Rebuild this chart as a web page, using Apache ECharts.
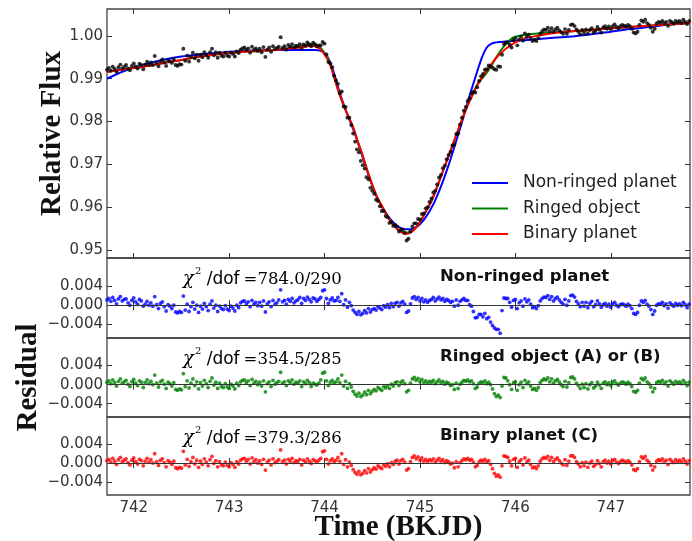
<!DOCTYPE html>
<html><head><meta charset="utf-8">
<script src="https://cdn.jsdelivr.net/npm/echarts@6/dist/echarts.min.js"></script>
<style>html,body{margin:0;padding:0;background:#fff}#c{width:692px;height:541px}</style>
</head><body><div id="c"></div>
<script>
// ---- data ----
const times = [
741.72,741.74,741.76,741.78,741.8,741.82,741.84,741.86,741.88,741.9,
741.92,741.94,741.96,741.98,742,742.02,742.04,742.06,742.08,742.1,
742.12,742.14,742.16,742.18,742.2,742.22,742.24,742.26,742.28,742.3,
742.32,742.34,742.36,742.38,742.4,742.42,742.44,742.46,742.48,742.5,
742.52,742.54,742.56,742.58,742.6,742.62,742.64,742.66,742.68,742.7,
742.72,742.74,742.76,742.78,742.8,742.82,742.84,742.86,742.88,742.9,
742.92,742.94,742.96,742.98,743,743.02,743.04,743.06,743.08,743.1,
743.12,743.14,743.16,743.18,743.2,743.22,743.24,743.26,743.28,743.3,
743.32,743.34,743.36,743.38,743.4,743.42,743.44,743.46,743.48,743.5,
743.52,743.54,743.56,743.58,743.6,743.62,743.64,743.66,743.68,743.7,
743.72,743.74,743.76,743.78,743.8,743.82,743.84,743.86,743.88,743.9,
743.92,743.94,743.96,743.98,744,744.02,744.04,744.06,744.08,744.1,
744.12,744.14,744.16,744.18,744.2,744.22,744.24,744.26,744.28,744.3,
744.32,744.34,744.36,744.38,744.4,744.42,744.44,744.46,744.48,744.5,
744.52,744.54,744.56,744.58,744.6,744.62,744.64,744.66,744.68,744.7,
744.72,744.74,744.76,744.78,744.8,744.82,744.84,744.86,744.88,744.9,
744.92,744.94,744.96,744.98,745,745.02,745.04,745.06,745.08,745.1,
745.12,745.14,745.16,745.18,745.2,745.22,745.24,745.26,745.28,745.3,
745.32,745.34,745.36,745.38,745.4,745.42,745.44,745.46,745.48,745.5,
745.52,745.54,745.56,745.58,745.6,745.62,745.64,745.66,745.68,745.7,
745.72,745.74,745.76,745.78,745.8,745.82,745.84,745.86,745.88,745.9,
745.92,745.94,745.96,745.98,746,746.02,746.04,746.06,746.08,746.1,
746.12,746.14,746.16,746.18,746.2,746.22,746.24,746.26,746.28,746.3,
746.32,746.34,746.36,746.38,746.4,746.42,746.44,746.46,746.48,746.5,
746.52,746.54,746.56,746.58,746.6,746.62,746.64,746.66,746.68,746.7,
746.72,746.74,746.76,746.78,746.8,746.82,746.84,746.86,746.88,746.9,
746.92,746.94,746.96,746.98,747,747.02,747.04,747.06,747.08,747.1,
747.12,747.14,747.16,747.18,747.2,747.22,747.24,747.26,747.28,747.3,
747.32,747.34,747.36,747.38,747.4,747.42,747.44,747.46,747.48,747.5,
747.52,747.54,747.56,747.58,747.6,747.62,747.64,747.66,747.68,747.7,
747.72,747.74,747.76,747.78,747.8,747.82];

const fluxObserved = [
0.9921,0.9925,0.9919,0.9928,0.9923,0.9916,0.9927,0.9933,0.9924,0.9928,
0.9932,0.9924,0.9920,0.9930,0.9936,0.9929,0.9924,0.9935,0.9932,0.9922,
0.9933,0.9940,0.9932,0.9938,0.9932,0.9953,0.9937,0.9929,0.9941,0.9945,
0.9938,0.9930,0.9943,0.9941,0.9937,0.9945,0.9932,0.9930,0.9934,0.9933,
0.9970,0.9942,0.9954,0.9940,0.9951,0.9961,0.9948,0.9956,0.9942,0.9956,
0.9950,0.9962,0.9956,0.9949,0.9962,0.9970,0.9955,0.9962,0.9949,0.9961,
0.9954,0.9952,0.9961,0.9954,0.9952,0.9961,0.9958,0.9952,0.9964,0.9960,
0.9968,0.9971,0.9973,0.9967,0.9971,0.9961,0.9975,0.9967,0.9971,0.9965,
0.9970,0.9962,0.9974,0.9951,0.9968,0.9973,0.9963,0.9976,0.9969,0.9972,
0.9975,0.9997,0.9972,0.9976,0.9968,0.9979,0.9975,0.9981,0.9973,0.9977,
0.9976,0.9981,0.9970,0.9980,0.9977,0.9985,0.9980,0.9976,0.9984,0.9981,
0.9976,0.9978,0.9978,0.9986,0.9982,0.9957,0.9939,0.9936,0.9927,0.9907,
0.9896,0.9888,0.9866,0.9870,0.9835,0.9834,0.9809,0.9809,0.9792,0.9772,
0.9753,0.9735,0.9728,0.9708,0.9698,0.9690,0.9670,0.9665,0.9645,0.9638,
0.9631,0.9617,0.9614,0.9602,0.9591,0.9591,0.9579,0.9576,0.9563,0.9565,
0.9556,0.9558,0.9555,0.9543,0.9547,0.9548,0.9540,0.9522,0.9526,0.9543,
0.9555,0.9562,0.9562,0.9572,0.9571,0.9584,0.9585,0.9597,0.9600,0.9612,
0.9620,0.9634,0.9638,0.9653,0.9669,0.9675,0.9691,0.9697,0.9712,0.9722,
0.9729,0.9744,0.9746,0.9771,0.9772,0.9793,0.9809,0.9825,0.9834,0.9848,
0.9854,0.9866,0.9869,0.9868,0.9880,0.9895,0.9906,0.9911,0.9921,0.9922,
0.9931,0.9929,0.9926,0.9922,0.9921,0.9929,0.9928,0.9956,0.9981,0.9984,
0.9985,0.9980,0.9973,0.9990,0.9995,0.9978,0.9992,0.9998,0.9989,1.0006,
0.9998,1.0003,0.9995,0.9988,0.9991,0.9988,0.9995,1.0005,1.0011,1.0015,
1.0014,1.0019,1.0011,1.0018,1.0010,1.0015,1.0019,1.0013,1.0009,1.0005,
1.0016,1.0005,1.0014,1.0026,1.0027,1.0023,1.0015,1.0010,1.0004,1.0014,
1.0007,1.0015,1.0005,1.0014,1.0018,1.0008,1.0012,1.0021,1.0015,1.0008,
1.0020,1.0023,1.0017,1.0022,1.0016,1.0023,1.0027,1.0021,1.0018,1.0023,
1.0026,1.0024,1.0022,1.0026,1.0023,1.0017,1.0008,1.0006,1.0010,1.0026,
1.0036,1.0033,1.0038,1.0030,1.0026,1.0019,1.0010,1.0017,1.0029,1.0033,
1.0031,1.0035,1.0029,1.0033,1.0024,1.0035,1.0032,1.0029,1.0035,1.0032,
1.0035,1.0031,1.0038,1.0033,1.0028,1.0035];

const modelTimes = [741.72,741.9,742.1,742.3,742.5,742.7,742.9,743.1,743.3,743.5,743.7,743.8,743.85,743.9,743.95,
744.0,744.05,744.1,744.15,744.2,744.25,744.3,744.35,744.4,744.45,744.5,744.55,744.6,744.65,744.7,744.75,744.8,744.85,744.9,744.95,
745.0,745.05,745.1,745.15,745.2,745.25,745.3,745.35,745.4,745.45,745.5,745.55,745.6,745.65,745.7,745.75,745.8,745.85,745.9,745.95,
746.0,746.1,746.2,746.3,746.4,746.6,746.8,747.0,747.2,747.4,747.6,747.83];

const modelNonRinged = [0.9900,0.9918,0.9933,0.9944,0.9952,0.9957,0.9961,0.9964,0.9966,0.9967,0.9967,0.9967,0.9967,0.9967,0.9966,
0.9960,0.9943,0.9912,0.9874,0.9840,0.9810,0.9782,0.9750,0.9716,0.9682,0.9650,0.9622,0.9601,0.9584,0.9569,0.9558,0.9551,0.9548,0.9548,0.9552,
0.9560,0.9573,0.9590,0.9611,0.9637,0.9666,0.9698,0.9733,0.9769,0.9806,0.9845,0.9882,0.9917,0.9950,0.9973,0.9982,0.9985,0.9986,0.9987,0.9988,
0.9989,0.9990,0.9992,0.9994,0.9996,0.9999,1.0004,1.0010,1.0016,1.0021,1.0026,1.0030];

const modelRinged = [0.9916,0.9922,0.9928,0.9936,0.9944,0.9952,0.9958,0.9962,0.9965,0.9968,0.9974,0.9979,0.9981,0.9980,0.9974,
0.9960,0.9940,0.9904,0.9868,0.9838,0.9812,0.9786,0.9752,0.9720,0.9684,0.9652,0.9624,0.9603,0.9582,0.9564,0.9551,0.9544,0.9540,0.9542,0.9550,
0.9565,0.9585,0.9605,0.9630,0.9659,0.9690,0.9719,0.9750,0.9780,0.9810,0.9838,0.9862,0.9886,0.9900,0.9914,0.9931,0.9950,0.9967,0.9981,0.9992,
0.9998,1.0003,1.0005,1.0007,1.0008,1.0011,1.0014,1.0018,1.0021,1.0024,1.0027,1.0030];

const modelBinary = [0.9916,0.9922,0.9928,0.9936,0.9944,0.9952,0.9958,0.9962,0.9965,0.9968,0.9972,0.9975,0.9977,0.9976,0.9970,
0.9956,0.9937,0.9904,0.9868,0.9838,0.9812,0.9786,0.9752,0.9720,0.9684,0.9652,0.9624,0.9603,0.9582,0.9564,0.9551,0.9542,0.9537,0.9540,0.9550,
0.9565,0.9585,0.9605,0.9630,0.9659,0.9690,0.9719,0.9750,0.9780,0.9810,0.9838,0.9862,0.9885,0.9903,0.9920,0.9935,0.9949,0.9960,0.9970,0.9978,
0.9985,0.9995,0.9999,1.0003,1.0007,1.0011,1.0014,1.0018,1.0021,1.0024,1.0027,1.0030];

const resNonRinged = [
11e-4,14e-4,8e-4,16e-4,10e-4,3e-4,13e-4,18e-4,9e-4,12e-4,
13e-4,5e-4,0,10e-4,15e-4,7e-4,2e-4,12e-4,9e-4,-2e-4,
2e-4,8e-4,0,5e-4,-2e-4,18e-4,1e-4,-7e-4,4e-4,7e-4,
-3e-4,-12e-4,1e-4,-2e-4,-7e-4,0,-14e-4,-16e-4,-13e-4,-15e-4,
19e-4,-10e-4,2e-4,-13e-4,-3e-4,6e-4,-8e-4,0,-15e-4,-2e-4,
-8e-4,4e-4,-3e-4,-11e-4,2e-4,9e-4,-6e-4,0,-13e-4,-2e-4,
-7e-4,-9e-4,-1e-4,-8e-4,-11e-4,-2e-4,-6e-4,-12e-4,0,-5e-4,
5e-4,8e-4,9e-4,3e-4,7e-4,-3e-4,10e-4,2e-4,6e-4,-1e-4,
6e-4,-2e-4,9e-4,-14e-4,3e-4,7e-4,-3e-4,10e-4,2e-4,5e-4,
11e-4,32e-4,7e-4,10e-4,2e-4,12e-4,8e-4,14e-4,5e-4,9e-4,
11e-4,16e-4,4e-4,14e-4,10e-4,17e-4,12e-4,7e-4,15e-4,13e-4,
8e-4,12e-4,16e-4,30e-4,32e-4,14e-4,4e-4,11e-4,15e-4,9e-4,
10e-4,16e-4,8e-4,24e-4,1e-4,11e-4,-4e-4,6e-4,-1e-4,-10e-4,
-15e-4,-19e-4,-13e-4,-20e-4,-17e-4,-11e-4,-16e-4,-7e-4,-14e-4,-9e-4,
-7e-4,-10e-4,-3e-4,-6e-4,-9e-4,-1e-4,-4e-4,1e-4,-5e-4,4e-4,
-3e-4,4e-4,6e-4,-2e-4,5e-4,8e-4,2e-4,-15e-4,-12e-4,3e-4,
15e-4,18e-4,12e-4,16e-4,9e-4,14e-4,7e-4,11e-4,6e-4,10e-4,
12e-4,16e-4,9e-4,13e-4,17e-4,11e-4,14e-4,8e-4,12e-4,10e-4,
6e-4,8e-4,-2e-4,11e-4,0,8e-4,11e-4,14e-4,10e-4,10e-4,
1e-4,-2e-4,-13e-4,-26e-4,-25e-4,-19e-4,-19e-4,-24e-4,-17e-4,-28e-4,
-25e-4,-35e-4,-42e-4,-47e-4,-50e-4,-50e-4,-58e-4,-11e-4,15e-4,14e-4,
14e-4,6e-4,-4e-4,10e-4,12e-4,-7e-4,5e-4,9e-4,-2e-4,13e-4,
7e-4,11e-4,2e-4,-5e-4,-3e-4,-7e-4,-1e-4,9e-4,14e-4,17e-4,
16e-4,20e-4,12e-4,18e-4,9e-4,14e-4,17e-4,11e-4,6e-4,2e-4,
12e-4,0,9e-4,20e-4,21e-4,17e-4,8e-4,3e-4,-3e-4,6e-4,
-2e-4,6e-4,-5e-4,4e-4,8e-4,-3e-4,1e-4,9e-4,3e-4,-4e-4,
1e-4,4e-4,-2e-4,2e-4,-4e-4,3e-4,6e-4,0,-3e-4,1e-4,
3e-4,1e-4,-2e-4,2e-4,-1e-4,-7e-4,-17e-4,-19e-4,-15e-4,0,
9e-4,6e-4,10e-4,2e-4,-2e-4,-9e-4,-19e-4,-12e-4,0,3e-4,
2e-4,6e-4,-1e-4,3e-4,-6e-4,5e-4,1e-4,-2e-4,4e-4,0,
3e-4,-1e-4,6e-4,1e-4,-5e-4,2e-4];

const resRinged = [
5e-4,8e-4,2e-4,10e-4,4e-4,-3e-4,7e-4,12e-4,3e-4,6e-4,
9e-4,1e-4,-4e-4,6e-4,11e-4,3e-4,-2e-4,8e-4,5e-4,-6e-4,
4e-4,10e-4,2e-4,7e-4,0,20e-4,3e-4,-5e-4,6e-4,9e-4,
1e-4,-8e-4,5e-4,2e-4,-3e-4,4e-4,-10e-4,-12e-4,-9e-4,-11e-4,
23e-4,-4e-4,8e-4,-7e-4,3e-4,12e-4,-2e-4,6e-4,-9e-4,4e-4,
-3e-4,9e-4,2e-4,-6e-4,7e-4,14e-4,-1e-4,5e-4,-8e-4,3e-4,
-4e-4,-6e-4,2e-4,-5e-4,-8e-4,1e-4,-3e-4,-9e-4,3e-4,-2e-4,
6e-4,9e-4,10e-4,4e-4,8e-4,-2e-4,11e-4,3e-4,7e-4,0,
5e-4,-3e-4,8e-4,-15e-4,2e-4,6e-4,-4e-4,9e-4,1e-4,4e-4,
7e-4,26e-4,3e-4,6e-4,-2e-4,8e-4,4e-4,10e-4,1e-4,5e-4,
3e-4,8e-4,-4e-4,6e-4,2e-4,9e-4,4e-4,-4e-4,3e-4,1e-4,
-1e-4,3e-4,10e-4,24e-4,26e-4,8e-4,-2e-4,5e-4,9e-4,3e-4,
6e-4,12e-4,4e-4,20e-4,-3e-4,7e-4,-8e-4,2e-4,-5e-4,-14e-4,
-20e-4,-24e-4,-18e-4,-25e-4,-22e-4,-16e-4,-21e-4,-12e-4,-19e-4,-14e-4,
-10e-4,-13e-4,-6e-4,-9e-4,-12e-4,-4e-4,-7e-4,-2e-4,-8e-4,1e-4,
-3e-4,4e-4,6e-4,-2e-4,5e-4,8e-4,2e-4,-15e-4,-12e-4,3e-4,
12e-4,15e-4,9e-4,13e-4,6e-4,11e-4,4e-4,8e-4,3e-4,7e-4,
5e-4,9e-4,2e-4,6e-4,10e-4,4e-4,7e-4,1e-4,5e-4,3e-4,
-2e-4,0,-10e-4,3e-4,-8e-4,1e-4,5e-4,9e-4,7e-4,10e-4,
6e-4,8e-4,2e-4,-8e-4,-5e-4,3e-4,6e-4,4e-4,8e-4,2e-4,
5e-4,0,-9e-4,-19e-4,-25e-4,-22e-4,-27e-4,-3e-4,15e-4,14e-4,
8e-4,0,-10e-4,4e-4,6e-4,-12e-4,0,5e-4,-6e-4,9e-4,
2e-4,6e-4,-3e-4,-10e-4,-8e-4,-12e-4,-6e-4,4e-4,9e-4,12e-4,
10e-4,14e-4,6e-4,12e-4,3e-4,8e-4,11e-4,5e-4,0,-4e-4,
7e-4,-5e-4,4e-4,15e-4,16e-4,12e-4,3e-4,-2e-4,-8e-4,1e-4,
-6e-4,2e-4,-9e-4,0,4e-4,-7e-4,-3e-4,5e-4,-1e-4,-8e-4,
3e-4,6e-4,0,4e-4,-2e-4,5e-4,8e-4,2e-4,-1e-4,3e-4,
6e-4,4e-4,1e-4,5e-4,2e-4,-4e-4,-14e-4,-16e-4,-12e-4,3e-4,
13e-4,10e-4,14e-4,6e-4,2e-4,-5e-4,-15e-4,-8e-4,4e-4,7e-4,
5e-4,9e-4,2e-4,6e-4,-3e-4,8e-4,4e-4,1e-4,7e-4,3e-4,
6e-4,2e-4,9e-4,4e-4,-2e-4,5e-4];

const resBinary = [
5e-4,8e-4,2e-4,10e-4,4e-4,-3e-4,7e-4,12e-4,3e-4,6e-4,
9e-4,1e-4,-4e-4,6e-4,11e-4,3e-4,-2e-4,8e-4,5e-4,-6e-4,
4e-4,10e-4,2e-4,7e-4,0,20e-4,3e-4,-5e-4,6e-4,9e-4,
1e-4,-8e-4,5e-4,2e-4,-3e-4,4e-4,-10e-4,-12e-4,-9e-4,-11e-4,
25e-4,-4e-4,8e-4,-7e-4,3e-4,12e-4,-2e-4,6e-4,-9e-4,4e-4,
-3e-4,9e-4,2e-4,-6e-4,7e-4,14e-4,-1e-4,5e-4,-8e-4,3e-4,
-4e-4,-6e-4,2e-4,-5e-4,-8e-4,1e-4,-3e-4,-9e-4,3e-4,-2e-4,
6e-4,9e-4,10e-4,4e-4,8e-4,-2e-4,11e-4,3e-4,7e-4,0,
5e-4,-3e-4,8e-4,-15e-4,2e-4,6e-4,-4e-4,9e-4,1e-4,4e-4,
7e-4,28e-4,3e-4,6e-4,-2e-4,8e-4,4e-4,10e-4,1e-4,5e-4,
3e-4,8e-4,-4e-4,6e-4,2e-4,9e-4,4e-4,-1e-4,7e-4,5e-4,
2e-4,6e-4,10e-4,24e-4,26e-4,8e-4,-2e-4,5e-4,9e-4,3e-4,
6e-4,12e-4,4e-4,20e-4,-3e-4,7e-4,-8e-4,2e-4,-5e-4,-14e-4,
-20e-4,-24e-4,-18e-4,-25e-4,-22e-4,-16e-4,-21e-4,-12e-4,-19e-4,-14e-4,
-10e-4,-13e-4,-6e-4,-9e-4,-12e-4,-4e-4,-7e-4,-2e-4,-8e-4,1e-4,
-3e-4,4e-4,6e-4,-2e-4,5e-4,8e-4,2e-4,-15e-4,-12e-4,3e-4,
12e-4,15e-4,9e-4,13e-4,6e-4,11e-4,4e-4,8e-4,3e-4,7e-4,
5e-4,9e-4,2e-4,6e-4,10e-4,4e-4,7e-4,1e-4,5e-4,3e-4,
-2e-4,0,-10e-4,3e-4,-8e-4,1e-4,5e-4,9e-4,7e-4,10e-4,
6e-4,8e-4,2e-4,-8e-4,-5e-4,3e-4,6e-4,4e-4,8e-4,2e-4,
5e-4,-3e-4,-12e-4,-22e-4,-28e-4,-25e-4,-30e-4,-6e-4,15e-4,14e-4,
12e-4,4e-4,-6e-4,8e-4,10e-4,-9e-4,3e-4,7e-4,-4e-4,11e-4,
2e-4,6e-4,-3e-4,-10e-4,-8e-4,-12e-4,-6e-4,4e-4,9e-4,12e-4,
10e-4,14e-4,6e-4,12e-4,3e-4,8e-4,11e-4,5e-4,0,-4e-4,
7e-4,-5e-4,4e-4,15e-4,16e-4,12e-4,3e-4,-2e-4,-8e-4,1e-4,
-6e-4,2e-4,-9e-4,0,4e-4,-7e-4,-3e-4,5e-4,-1e-4,-8e-4,
3e-4,6e-4,0,4e-4,-2e-4,5e-4,8e-4,2e-4,-1e-4,3e-4,
6e-4,4e-4,1e-4,5e-4,2e-4,-4e-4,-14e-4,-16e-4,-12e-4,3e-4,
13e-4,10e-4,14e-4,6e-4,2e-4,-5e-4,-15e-4,-8e-4,4e-4,7e-4,
5e-4,9e-4,2e-4,6e-4,-3e-4,8e-4,4e-4,1e-4,7e-4,3e-4,
6e-4,2e-4,9e-4,4e-4,-2e-4,5e-4];

const xTicks = [742, 743, 744, 745, 746, 747];
const fluxTicks = [0.95, 0.96, 0.97, 0.98, 0.99, 1.00];
const resTicks = [-0.004, 0, 0.004];
const modelNames = ['Non-ringed planet', 'Ringed object', 'Binary planet'];
const panelTitles = ['Non-ringed planet', 'Ringed object (A) or (B)', 'Binary planet (C)'];
const chiValues = ['784.0/290', '354.5/285', '379.3/286'];

// ---- chart ----
const colors = ['#0000ff', '#008000', '#ff0000'];
const pair = (xs, ys) => xs.map((x, i) => [x, ys[i]]);
const chart = echarts.init(document.getElementById('c'), null, {renderer: 'canvas'});

const L = 107, R = 2;
const gridBoxes = [[9, 249], [258, 80], [338, 79], [417, 78]];
const grids = gridBoxes.map(([t, h]) => ({left: L, right: R, top: t, height: h, show: true,
  outerBoundsMode: 'none', containLabel: false,
  borderColor: '#444', borderWidth: 1.3, backgroundColor: 'transparent'}));

const tickStyle = {color: '#333', width: 1};
const titleFont = {fontFamily: 'Liberation Serif', fontWeight: 'bold', fontSize: 29, color: '#111'};
const xAxes = [], yAxes = [];
for (let i = 0; i < 4; i++) {
  for (const pos of ['bottom', 'top']) {
    const lab = (i === 3 && pos === 'bottom');
    xAxes.push({type: 'value', gridIndex: i, position: pos, min: 741.72, max: 747.83,
      axisLine: {show: false}, splitLine: {show: false},
      axisTick: {show: true, inside: true, length: 5, customValues: xTicks, lineStyle: tickStyle},
      axisLabel: {show: lab, customValues: xTicks, fontSize: 15, color: '#333', fontFamily: 'DejaVu Sans', margin: 6},
      name: lab ? 'Time (BKJD)' : '', nameLocation: 'middle', nameGap: 18, nameMoveOverlap: false,
      nameTextStyle: titleFont});
  }
  for (const pos of ['left', 'right']) {
    const top = i === 0, lab = pos === 'left';
    const fmt = top ? (v => v.toFixed(2)) : (v => (v < 0 ? '\u2212' + Math.abs(v).toFixed(3) : v.toFixed(3)));
    let name = '';
    if (lab && i === 0) name = 'Relative Flux';
    if (lab && i === 2) name = 'Residual';
    yAxes.push({type: 'value', gridIndex: i, position: pos,
      min: top ? 0.9481 : -0.0068, max: top ? 1.0063 : 0.0098,
      axisLine: {show: false}, splitLine: {show: false},
      axisTick: {show: true, inside: true, length: 5, customValues: top ? fluxTicks : resTicks, lineStyle: tickStyle},
      axisLabel: {show: lab, customValues: top ? fluxTicks : resTicks, formatter: fmt, fontSize: 15, color: '#333', fontFamily: 'DejaVu Sans', margin: 4},
      name: name, nameLocation: 'middle', nameGap: i === 0 ? 40 : 64, nameMoveOverlap: false,
      nameTextStyle: titleFont});
  }
}

const series = [];
series.push({name: 'Observed flux', type: 'scatter', xAxisIndex: 0, yAxisIndex: 0,
  data: pair(times, fluxObserved), symbolSize: 3.9, itemStyle: {color: '#000'}, z: 5});
const models = [modelNonRinged, modelRinged, modelBinary];
models.forEach((m, k) => series.push({name: modelNames[k], type: 'line', xAxisIndex: 0, yAxisIndex: 0,
  data: pair(modelTimes, m), showSymbol: false, smooth: 0.35, lineStyle: {color: colors[k], width: 2},
  itemStyle: {color: colors[k]}, z: 3 + k * 0.1}));
const residuals = [resNonRinged, resRinged, resBinary];
residuals.forEach((r, k) => series.push({name: 'Residual ' + modelNames[k], type: 'scatter',
  xAxisIndex: 2 * (k + 1), yAxisIndex: 2 * (k + 1), data: pair(times, r), symbolSize: 3.8,
  itemStyle: {color: colors[k]}, z: 4,
  markLine: {silent: true, symbol: 'none', label: {show: false}, animation: false,
    lineStyle: {color: '#333', type: 'solid', width: 1.2}, data: [{yAxis: 0}]}}));

const graphics = [];
panelTitles.forEach((t, k) => {
  const yc = gridBoxes[k + 1][0] + 19;
  graphics.push({type: 'text', x: 183, y: yc, silent: true, style: {
    text: '{c|\u03c7}{s|2}{d| /dof}{n|=' + chiValues[k] + '}',
    verticalAlign: 'middle', align: 'left',
    rich: {
      c: {fontFamily: 'DejaVu Serif', fontStyle: 'italic', fontSize: 18, color: '#444', lineHeight: 22, verticalAlign: 'bottom'},
      s: {fontFamily: 'DejaVu Serif', fontSize: 10, color: '#444', lineHeight: 22, verticalAlign: 'top', padding: [0, 0, 0, 1]},
      d: {fontFamily: 'DejaVu Sans', fontSize: 17, color: '#444', lineHeight: 22, verticalAlign: 'bottom'},
      n: {fontFamily: 'DejaVu Serif', fontSize: 16.5, color: '#555', lineHeight: 22, verticalAlign: 'bottom', padding: [0, 0, 0, 4]}
    }}});
  graphics.push({type: 'text', x: 440, y: yc, silent: true, style: {
    text: t, fontFamily: 'DejaVu Sans', fontWeight: 'bold', fontSize: 16.5, fill: '#111',
    verticalAlign: 'middle', align: 'left'}});
});

chart.setOption({
  animation: false,
  backgroundColor: '#fff',
  grid: grids,
  xAxis: xAxes,
  yAxis: yAxes,
  legend: {data: modelNames.map(n => ({name: n, icon: 'rect'})), orient: 'vertical', left: 467, top: 168,
    itemWidth: 36, itemHeight: 2.2, itemGap: 5.5, selectedMode: false,
    textStyle: {fontFamily: 'DejaVu Sans', fontSize: 17, color: '#222', lineHeight: 20, padding: [0, 0, 0, 10]}},
  graphic: graphics,
  series: series
});
</script></body></html>
